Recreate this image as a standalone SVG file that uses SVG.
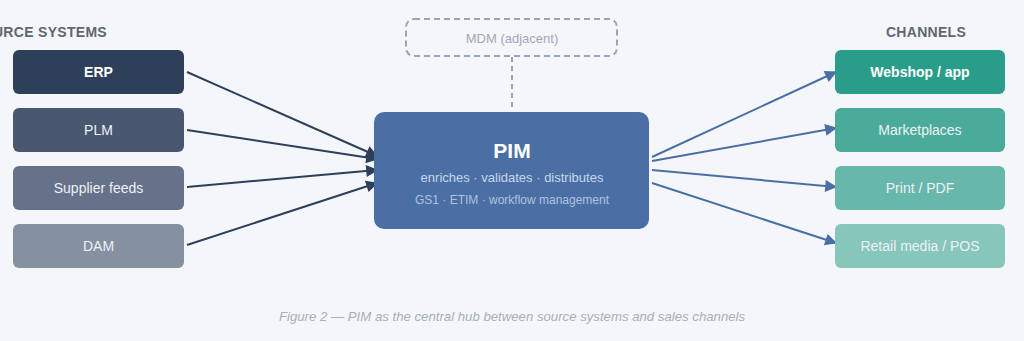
<svg xmlns="http://www.w3.org/2000/svg" width="1024" height="341" viewBox="0 0 1024 341">
<style>
text{font-family:"Liberation Sans",Arial,sans-serif}
.hdr{font-size:14px;font-weight:bold;fill:#5f6673;letter-spacing:0.3px}
.lbl{font-size:14px;fill:#eef1f5;text-anchor:middle}
.b{font-weight:bold;fill:#fff}
.src{stroke:#2e3f5a;stroke-width:2;fill:none}
.out{stroke:#4a6fa5;stroke-width:2;fill:none}
</style>
<defs>
<marker id="ah1" viewBox="0 0 10 10" refX="9" refY="5" markerWidth="6.5" markerHeight="6" orient="auto" markerUnits="strokeWidth"><path d="M0,0L10,5L0,10z" fill="#2e3f5a"/></marker>
<marker id="ah2" viewBox="0 0 10 10" refX="9" refY="5" markerWidth="6.5" markerHeight="6" orient="auto" markerUnits="strokeWidth"><path d="M0,0L10,5L0,10z" fill="#4a6fa5"/></marker>
</defs>
<rect width="1024" height="341" fill="#f4f6fa"/>
<text class="hdr" x="107" y="37" text-anchor="end">SOURCE SYSTEMS</text>
<text class="hdr" x="926" y="37" text-anchor="middle">CHANNELS</text>
<g id="connectors">
<line class="src" x1="187" y1="72" x2="377" y2="156" marker-end="url(#ah1)"/>
<line class="src" x1="187" y1="130" x2="377" y2="159" marker-end="url(#ah1)"/>
<line class="src" x1="187" y1="187" x2="377" y2="170" marker-end="url(#ah1)"/>
<line class="src" x1="187" y1="245" x2="377" y2="183" marker-end="url(#ah1)"/>
<line class="out" x1="652" y1="157" x2="836" y2="72" marker-end="url(#ah2)"/>
<line class="out" x1="652" y1="161" x2="836" y2="128" marker-end="url(#ah2)"/>
<line class="out" x1="652" y1="170" x2="836" y2="187" marker-end="url(#ah2)"/>
<line class="out" x1="652" y1="183" x2="836" y2="243" marker-end="url(#ah2)"/>
<line x1="512" y1="57" x2="512" y2="109" stroke="#9aa4b4" stroke-width="2" stroke-dasharray="5,4"/>
</g>
<g id="erp"><rect x="13" y="50" width="171" height="44" rx="6" fill="#2e3f5a"/><text class="lbl b" x="98.5" y="77">ERP</text></g>
<g id="plm"><rect x="13" y="108" width="171" height="44" rx="6" fill="#4a5770"/><text class="lbl" x="98.5" y="135">PLM</text></g>
<g id="supplier"><rect x="13" y="166" width="171" height="44" rx="6" fill="#65728a"/><text class="lbl" x="98.5" y="193">Supplier feeds</text></g>
<g id="dam"><rect x="13" y="224" width="171" height="44" rx="6" fill="#8590a0"/><text class="lbl" x="98.5" y="251">DAM</text></g>
<g id="mdm"><rect x="406" y="19" width="211" height="37" rx="8" fill="none" stroke="#9aa4b4" stroke-width="2" stroke-dasharray="6,4"/><text x="512" y="43" font-size="13" fill="#a0a8b5" text-anchor="middle">MDM (adjacent)</text></g>
<g id="pim"><rect x="374" y="112" width="275" height="117" rx="10" fill="#4a6fa5"/>
<text x="512" y="158" font-size="21" font-weight="bold" fill="#fff" text-anchor="middle">PIM</text>
<text x="512" y="182" font-size="13" fill="#c9d6ea" text-anchor="middle">enriches · validates · distributes</text>
<text x="512" y="204" font-size="12" fill="#aec2de" text-anchor="middle">GS1 · ETIM · workflow management</text></g>
<g id="webshop"><rect x="835" y="50" width="170" height="44" rx="6" fill="#2a9d8a"/><text class="lbl b" x="920" y="77">Webshop / app</text></g>
<g id="marketplaces"><rect x="835" y="108" width="170" height="44" rx="6" fill="#4aab9b"/><text class="lbl" x="920" y="135">Marketplaces</text></g>
<g id="print"><rect x="835" y="166" width="170" height="44" rx="6" fill="#67b7aa"/><text class="lbl" x="920" y="193">Print / PDF</text></g>
<g id="retail"><rect x="835" y="224" width="170" height="44" rx="6" fill="#86c6bb"/><text class="lbl" x="920" y="251">Retail media / POS</text></g>
<text x="512" y="321" font-size="13.2" font-style="italic" fill="#a9aeb8" text-anchor="middle">Figure 2 — PIM as the central hub between source systems and sales channels</text>
</svg>
